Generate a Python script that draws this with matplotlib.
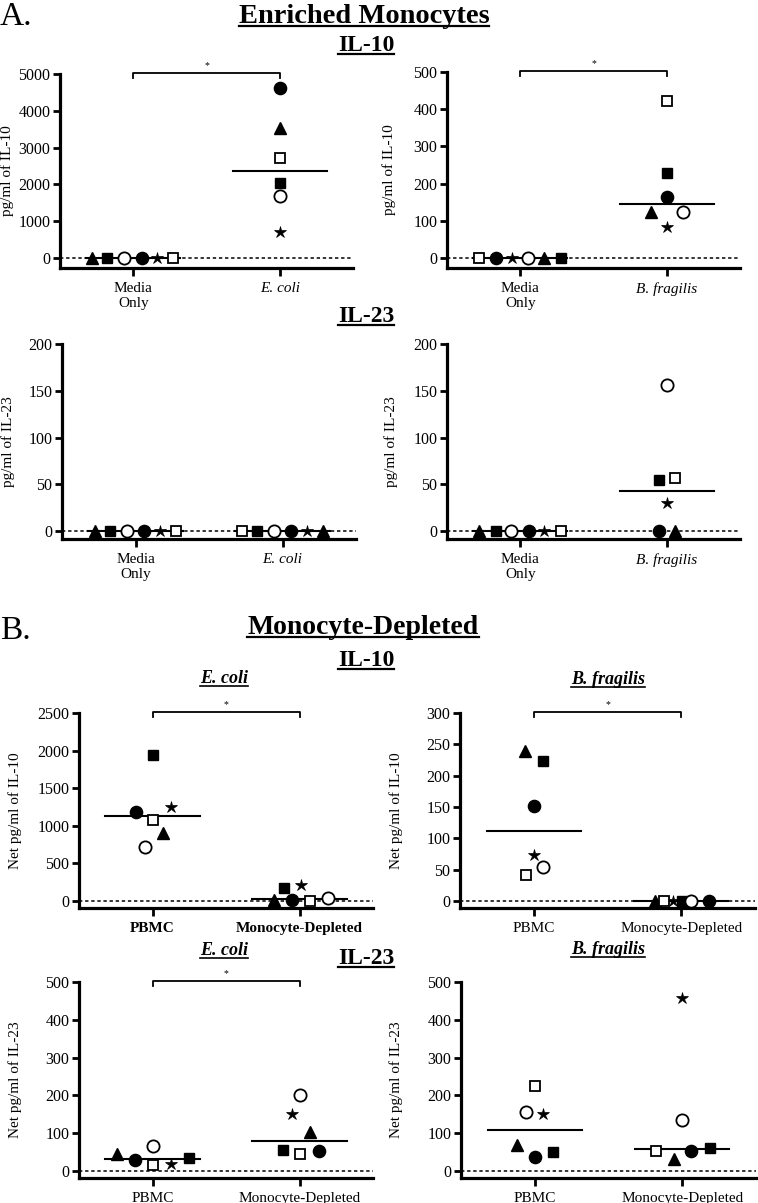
import numpy as np
import matplotlib
matplotlib.use('Agg')
import matplotlib.pyplot as plt
from matplotlib.lines import Line2D

plt.rcParams['font.family'] = ['Liberation Serif', 'DejaVu Serif']

# donor order: triangle, filled square, open circle, filled circle, star, open square
donors = ['tri', 'sq', 'ocirc', 'circ', 'star', 'osq']

# A. enriched monocytes, IL-10 (pg/ml)
a10_ecoli_media = [0, 0, 0, 0, 0, 0]
a10_ecoli_stim = [3520, 2030, 1680, 4620, 700, 2710]
a10_bfrag_media = [0, 0, 0, 0, 0, 0]
a10_bfrag_stim = [125, 229, 125, 165, 82, 423]

# A. enriched monocytes, IL-23 (pg/ml)
a23_ecoli_media = [0, 0, 0, 0, 0, 0]
a23_ecoli_stim = [0, 0, 0, 0, 0, 0]
a23_bfrag_media = [0, 0, 0, 0, 0, 0]
a23_bfrag_stim = [0, 55, 156, 0, 30, 57]

# B. monocyte-depleted, IL-10 (net pg/ml)
b10_ecoli_pbmc = [906, 1948, 720, 1188, 1245, 1075]
b10_ecoli_md = [15, 173, 44, 12, 208, 0]
b10_bfrag_pbmc = [239, 223, 54, 151, 74, 41]
b10_bfrag_md = [0, 0, 0, 0, 0, 0]

# B. monocyte-depleted, IL-23 (net pg/ml)
b23_ecoli_pbmc = [46, 35, 65, 28, 19, 15]
b23_ecoli_md = [104, 55, 201, 52, 150, 46]
b23_bfrag_pbmc = [68, 50, 155, 37, 150, 226]
b23_bfrag_md = [31, 62, 136, 52, 457, 52]

# horizontal scatter of the points (pixels), same donor order
a10_ecoli_dx = [[-41, -26, -9, 9, 24, 40], [0, 0, 0, 0, 0, 0]]
a10_bfrag_dx = [[24, 41, 8, -24, -8, -41], [-16, 0, 16, 0, 0, 0]]
a23_ecoli_dx = [[-41, -26, -9, 8, 24, 40], [40, -26, -9, 8, 24, -41]]
a23_bfrag_dx = [[-41, -24, -9, 9, 24, 41], [8, -8, 0, -8, 0, 8]]
b10_ecoli_dx = [[10, 0, -8, -17, 18, 0], [-26, -16, 28, -8, 1, 10]]
b10_bfrag_dx = [[-9, 9, 9, 0, 0, -8], [-26, 1, 10, 28, -8, -17]]
b23_ecoli_dx = [[-36, 36, 0, -18, 18, 0], [10, -17, 0, 19, -8, 0]]
b23_bfrag_dx = [[-18, 18, -9, 0, 8, 0], [-8, 28, 0, 9, 0, -26]]

styles = {
    'tri': dict(marker='^', ms=8.3, mfc='k', mec='k'),
    'sq': dict(marker='s', ms=7.8, mfc='k', mec='k'),
    'ocirc': dict(marker='o', ms=8.8, mfc='white', mec='k', mew=1.3),
    'circ': dict(marker='o', ms=8.8, mfc='k', mec='k'),
    'star': dict(marker='*', ms=9.3, mfc='k', mec='k', mew=0.5),
    'osq': dict(marker='s', ms=7.8, mfc='white', mec='k', mew=1.3),
}

W, H = 758, 1203
fig = plt.figure(figsize=(W / 100, H / 100), dpi=100)
PX = 147.0  # pixels per category step


def panel(geom, ymax, ystep, vals, dx, labels, ylabel, ylab_px,
          sig=False, bold=False, italic=(1,)):
    x0, x1, ytop, yzero, ybot = geom
    per_px = ymax / (yzero - ytop)
    ymin = -(ybot - yzero) * per_px
    ax = fig.add_axes([x0 / W, 1 - ybot / H, (x1 - x0) / W, (ybot - ytop) / H])
    ax.set_xlim(-0.5, 1.5)
    ax.set_ylim(ymin, ymax)
    ax.axhline(0, ls=(0, (2.2, 1.8)), color='k', lw=1.1, zorder=1)
    for g, (v, j) in enumerate(zip(vals, dx)):
        med = np.median(v)
        ax.plot([g - 0.32, g + 0.32], [med, med], color='k', lw=1.5, zorder=2)
        for k, d in enumerate(donors):
            ax.plot(g + j[k] / PX, v[k], ls='none', zorder=3, clip_on=False, **styles[d])
    for s in ['top', 'right']:
        ax.spines[s].set_visible(False)
    for s in ['left', 'bottom']:
        ax.spines[s].set_linewidth(2.3)
    ax.set_yticks(np.arange(0, ymax + 1, ystep))
    ax.set_xticks([0, 1])
    ax.set_xticklabels(labels)
    ax.tick_params(axis='both', direction='out', length=5, width=2,
                   pad=2, colors='k')
    ax.tick_params(axis='y', labelsize=11.5)
    ax.tick_params(axis='x', length=6, pad=4, labelsize=11)
    for i, t in enumerate(ax.get_xticklabels()):
        if bold:
            t.set_fontweight('bold')
        if i in italic:
            t.set_fontstyle('italic')
    ax.set_ylabel(ylabel, fontsize=11)
    ax.yaxis.set_label_coords((ylab_px - x0) / (x1 - x0), 0.5)
    if sig:
        yb = ymax + 1 * per_px
        ax.plot([0, 0, 1, 1], [yb - 5 * per_px, yb, yb, yb - 5 * per_px],
                color='k', lw=1.3, clip_on=False)
        ax.text(0.5, yb + 3 * per_px, '*', ha='center', va='bottom', fontsize=7)
    return ax


ecoli_lab = ['Media\nOnly', 'E. coli']
bfrag_lab = ['Media\nOnly', 'B. fragilis']
b_lab = ['PBMC', 'Monocyte-Depleted']

panel((60, 353, 74, 258, 268), 5000, 1000, [a10_ecoli_media, a10_ecoli_stim],
      a10_ecoli_dx, ecoli_lab, 'pg/ml of IL-10', 14, sig=True)
panel((447, 740, 72, 258, 268), 500, 100, [a10_bfrag_media, a10_bfrag_stim],
      a10_bfrag_dx, bfrag_lab, 'pg/ml of IL-10', 396, sig=True)
panel((62, 356, 344, 531, 539), 200, 50, [a23_ecoli_media, a23_ecoli_stim],
      a23_ecoli_dx, ecoli_lab, 'pg/ml of IL-23', 15)
panel((447, 740, 344, 531, 539), 200, 50, [a23_bfrag_media, a23_bfrag_stim],
      a23_bfrag_dx, bfrag_lab, 'pg/ml of IL-23', 398)
panel((79, 373, 713, 901, 908), 2500, 500, [b10_ecoli_pbmc, b10_ecoli_md],
      b10_ecoli_dx, b_lab, 'Net pg/ml of IL-10', 22, sig=True, bold=True, italic=())
panel((460, 755, 713, 901, 908), 300, 50, [b10_bfrag_pbmc, b10_bfrag_md],
      b10_bfrag_dx, b_lab, 'Net pg/ml of IL-10', 403, sig=True, italic=())
panel((79, 373, 982, 1171, 1178), 500, 100, [b23_ecoli_pbmc, b23_ecoli_md],
      b23_ecoli_dx, b_lab, 'Net pg/ml of IL-23', 22, sig=True, italic=())
panel((461, 756, 982, 1171, 1178), 500, 100, [b23_bfrag_pbmc, b23_bfrag_md],
      b23_bfrag_dx, b_lab, 'Net pg/ml of IL-23', 403, italic=())

# headings (pixel positions: x centre, baseline)
heads = [
    ('Enriched Monocytes', 364, 23, 20.5, 'bold', 'normal'),
    ('IL-10', 366, 51, 17, 'bold', 'normal'),
    ('IL-23', 366, 322, 17, 'bold', 'normal'),
    ('Monocyte-Depleted', 363, 634, 20, 'bold', 'normal'),
    ('IL-10', 366, 666, 17, 'bold', 'normal'),
    ('E. coli', 224, 683, 13, 'bold', 'italic'),
    ('B. fragilis', 608, 684, 13, 'bold', 'italic'),
    ('E. coli', 224, 955, 13, 'bold', 'italic'),
    ('IL-23', 366, 964, 17, 'bold', 'normal'),
    ('B. fragilis', 608, 954, 13, 'bold', 'italic'),
]
texts = []
for s, x, y, fs, fw, st in heads:
    t = fig.text(x / W, 1 - y / H, s, ha='center', va='baseline', fontsize=fs,
                 fontweight=fw, fontstyle=st)
    texts.append((t, y, fs))

fig.text(0 / W, 1 - 25 / H, 'A.', ha='left', va='baseline', fontsize=24)
fig.text(0 / W, 1 - 639 / H, 'B.', ha='left', va='baseline', fontsize=24)

# underline the headings
fig.canvas.draw()
r = fig.canvas.get_renderer()
for t, y, fs in texts:
    bb = t.get_window_extent(r)
    yu = H - (y + (3 if fs >= 17 else 2.5))
    fig.add_artist(Line2D([bb.x0 / W, bb.x1 / W], [yu / H, yu / H],
                          transform=fig.transFigure, color='k',
                          lw=1.6 if fs >= 17 else 1.2))

fig.savefig('out.png', dpi=100)
